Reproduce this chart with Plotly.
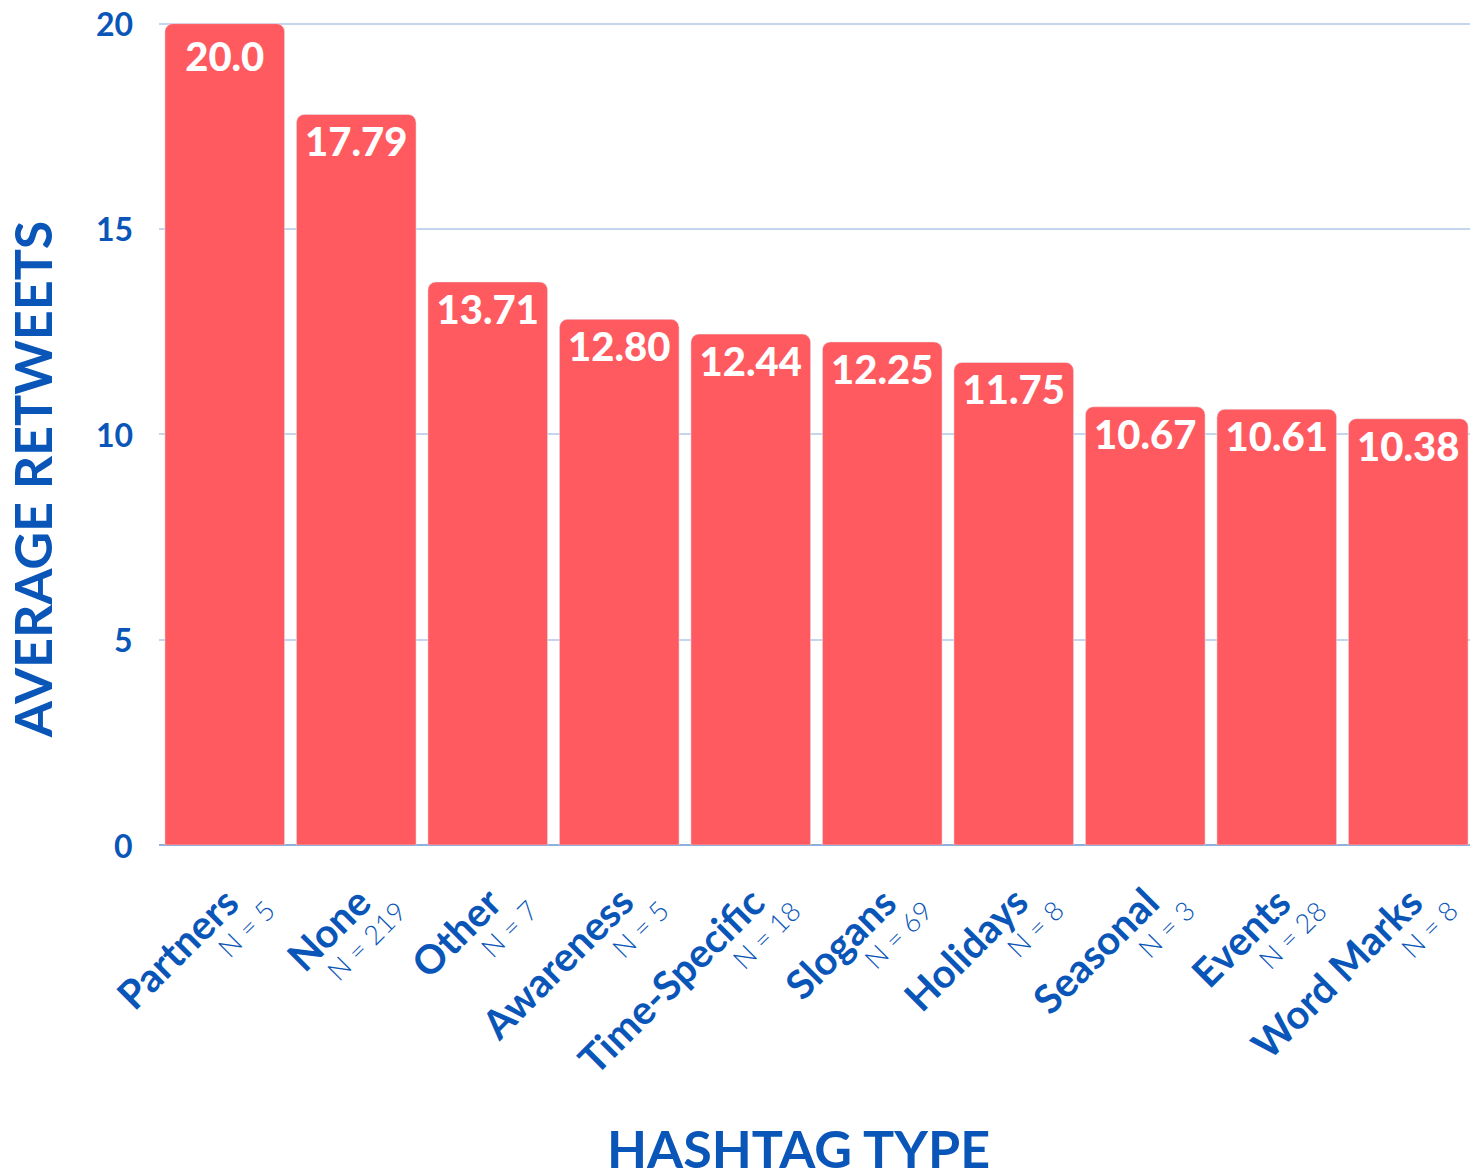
import plotly.graph_objects as go

categories = ['Partners', 'None', 'Other', 'Awareness', 'Time-Specific', 'Slogans',
              'Holidays', 'Seasonal', 'Events', 'Word Marks']
counts = [5, 219, 7, 5, 18, 69, 8, 3, 28, 8]
avg_retweets = [20.0, 17.79, 13.71, 12.80, 12.44, 12.25, 11.75, 10.67, 10.61, 10.38]
value_labels = ['20.0', '17.79', '13.71', '12.80', '12.44', '12.25', '11.75', '10.67', '10.61', '10.38']
y_ticks = [0, 5, 10, 15, 20]

blue = '#0a56b8'
red = '#ff5a5f'

fig = go.Figure()
fig.add_trace(go.Bar(
    x=categories,
    y=avg_retweets,
    marker=dict(color=red, cornerradius=8),
    text=value_labels,
    textposition='inside',
    insidetextanchor='end',
    textangle=0,
    textfont=dict(color='white', size=40, family='Lato', weight=900),
    hoverinfo='skip',
))

annotations = [
    dict(text='<b>AVERAGE RETWEETS</b>', xref='paper', yref='paper', x=-0.097, y=0.445,
         textangle=-90, showarrow=False, xanchor='center', yanchor='middle',
         font=dict(size=52, color=blue, family='Lato', weight=900)),
    dict(text='<b>HASHTAG TYPE</b>', xref='paper', yref='paper', x=0.486, y=-0.368,
         showarrow=False, xanchor='center', yanchor='middle',
         font=dict(size=52, color=blue, family='Lato', weight=900)),
]
# y tick labels (drawn as annotations so the top one is not dropped)
for t in y_ticks:
    annotations.append(dict(
        text=f'<b>{t}</b>', x=0, xref='paper', y=t, yref='y',
        showarrow=False, xanchor='right', yanchor='middle', xshift=-24,
        font=dict(size=32, color=blue, family='Lato', weight=900)))
# category names and sample sizes, rotated under each bar
for c, n in zip(categories, counts):
    annotations.append(dict(
        text=f'<b>{c}</b>', x=c, xref='x', y=0, yref='paper',
        textangle=-45, showarrow=False, xanchor='right', yanchor='top',
        xshift=26, yshift=-30,
        font=dict(size=40, color=blue, family='Lato', weight=900)))
    annotations.append(dict(
        text=f'N = {n}', x=c, xref='x', y=0, yref='paper',
        textangle=-45, showarrow=False, xanchor='right', yanchor='top',
        xshift=59, yshift=-46,
        font=dict(size=27, color=blue, family='Lato', weight=300)))

fig.update_layout(
    width=1478, height=1172,
    margin=dict(l=151, r=12, t=14, b=335),
    plot_bgcolor='white', paper_bgcolor='white',
    bargap=0.09,
    showlegend=False,
    font=dict(family='Lato', color=blue),
    uniformtext=dict(mode='show', minsize=30),
    annotations=annotations,
)
fig.update_xaxes(range=[-0.5, len(categories) - 0.5], showticklabels=False,
                 showline=False, ticks='', automargin=False)
fig.update_yaxes(
    range=[0, 20.04], tickvals=y_ticks, showticklabels=False,
    gridcolor='#c5d5ee', gridwidth=1.5,
    zeroline=True, zerolinecolor='#8fb0dc', zerolinewidth=1.5,
    automargin=False,
)

fig.write_html("out.html")
